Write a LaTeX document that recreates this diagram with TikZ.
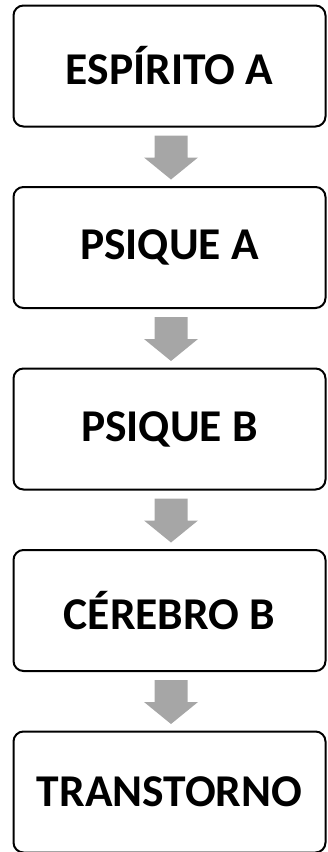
\documentclass[tikz,border=0pt]{standalone}
\usepackage{fontspec}
\setmainfont{Carlito}
\usetikzlibrary{calc}
\begin{document}
\begin{tikzpicture}[x=1pt,y=-1pt,
  box/.style={draw=black,line width=2pt,rounded corners=10pt,fill=white,minimum width=312pt,minimum height=121pt,font=\bfseries\fontsize{45.5}{50}\selectfont,inner sep=0pt},
  garrow/.style={fill=arrowgray,draw=none}]
\definecolor{arrowgray}{HTML}{A6A6A6}
\useasboundingbox (0,0) rectangle (327,852);
\node[box] (b1) at (169.5,66) {ESPÍRITO A};
\node[box] (b2) at (169.5,247.5) {PSIQUE A};
\node[box] (b3) at (169.5,429) {PSIQUE B};
\node[box] (b4) at (169.5,610.5) {CÉREBRO B};
\node[box] (b5) at (169.5,792) {TRANSTORNO};
\foreach \a in {b1,b2,b3,b4}{
  \path (\a.south) ++(1.5,0) coordinate (s);
  \fill[garrow] ($(s)+(-16.5,8)$) -- ++(33,0) -- ++(0,22) -- ++(10.5,0) -- ($(s)+(0,52)$) -- ($(s)+(-27,30)$) -- ++(10.5,0) -- cycle;
}
\end{tikzpicture}
\end{document}
